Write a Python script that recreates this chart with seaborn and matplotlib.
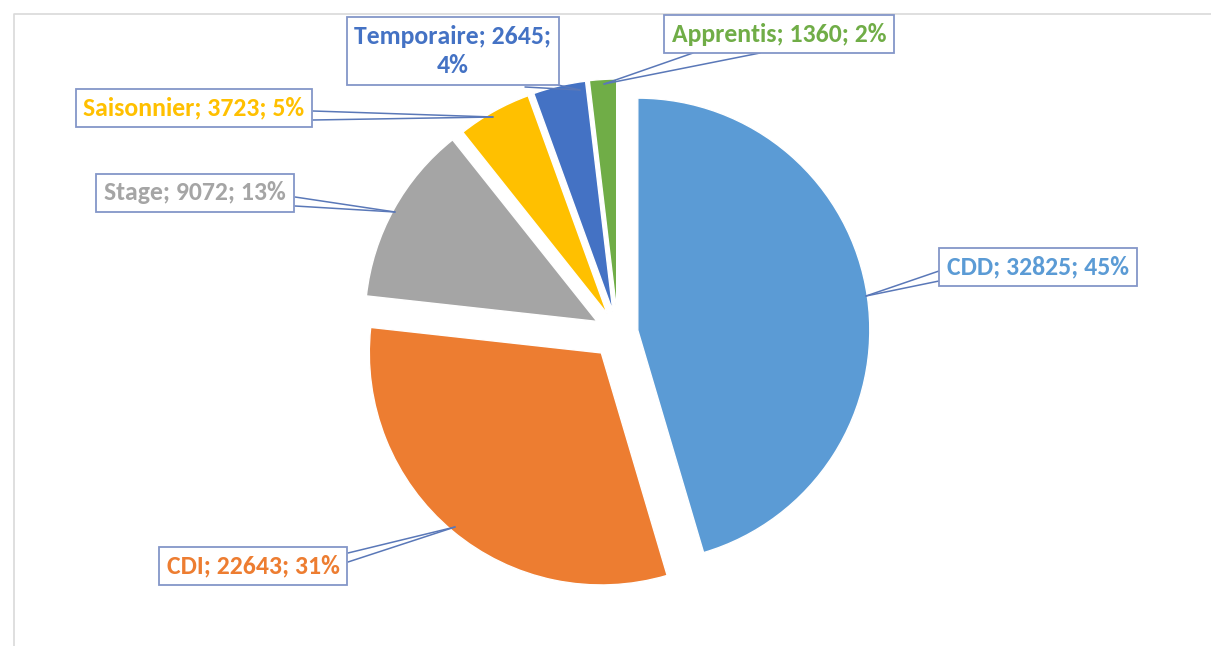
import matplotlib
matplotlib.use("Agg")
import matplotlib.pyplot as plt
import seaborn as sns

# data ---------------------------------------
contrats = ["CDD", "CDI", "Stage", "Saisonnier", "Temporaire", "Apprentis"]
effectifs = [32825, 22643, 9072, 3723, 2645, 1360]
couleurs = ["#5B9BD5", "#ED7D31", "#A5A5A5", "#FFC000", "#4472C4", "#70AD47"]

# label layout (pixel coords, y from top) ----
W, H = 1211, 646
box_pos = {
    "CDD": (1038, 267),
    "CDI": (253, 566),
    "Stage": (195, 193),
    "Saisonnier": (194, 108),
    "Temporaire": (453, 51),
    "Apprentis": (779, 34),
}
# two points on the box edge and the tip on the slice
leaders = {
    "CDD": [(939, 271), (939, 281), (866, 296)],
    "CDI": [(348, 553), (348, 562), (455, 527)],
    "Stage": [(295, 197), (295, 206), (395, 212)],
    "Saisonnier": [(313, 111), (313, 120), (493, 117)],
    "Temporaire": [(525, 87), (558, 85), (580, 90)],
    "Apprentis": [(693, 53), (760, 53), (604, 84)],
}

sns.set_theme(style="white")
plt.rcParams["font.family"] = ["Carlito", "Lato", "DejaVu Sans"]

fig = plt.figure(figsize=(W / 100, H / 100), dpi=100)
ax = fig.add_axes([0, 0, 1, 1])

# chart frame
ax.plot([14, 14, W], [0, H - 14, H - 14], color="#D9D9D9", lw=1.2)

ax.pie(
    effectifs,
    colors=couleurs,
    startangle=90,
    counterclock=False,
    explode=[20, 26, 24, 22, 22, 22],
    radius=232,
    center=(618, H - 333),
    wedgeprops=dict(edgecolor="white", linewidth=1),
    frame=True,
)
ax.set_xlim(0, W)
ax.set_ylim(0, H)
ax.set_aspect("equal")
ax.axis("off")

total = sum(effectifs)
for nom, val, col in zip(contrats, effectifs, couleurs):
    pct = round(100 * val / total)
    if nom == "Temporaire":
        txt = f"{nom}; {val};\n{pct}%"
    else:
        txt = f"{nom}; {val}; {pct}%"
    p1, p2, tip = leaders[nom]
    for p in (p1, p2):
        ax.plot([p[0], tip[0]], [H - p[1], H - tip[1]], color="#5A78B8", lw=1.1, zorder=4)
    x, y = box_pos[nom]
    ax.text(
        x, H - y, txt,
        ha="center", va="center", ma="center",
        fontsize=18.5, fontweight="bold", color=col, linespacing=1.3,
        bbox=dict(boxstyle="square,pad=0.3", fc="white", ec="#8496C8", lw=1.3),
        zorder=5,
    )

fig.savefig("out.png", dpi=100)
